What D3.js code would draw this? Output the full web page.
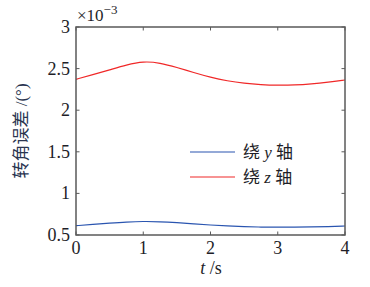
<!DOCTYPE html>
<html><head><meta charset="utf-8">
<script src="https://cdn.jsdelivr.net/npm/d3@7"></script>
<style>body{margin:0;background:#fff}svg{display:block}</style>
</head><body>
<script>
const times = [0, 0.25, 0.5, 0.75, 1, 1.25, 1.5, 1.75, 2, 2.25, 2.5, 2.75, 3, 3.25, 3.5, 3.75, 4];
const rotY = [0.612, 0.627, 0.642, 0.656, 0.664, 0.660, 0.648, 0.634, 0.620, 0.609, 0.600, 0.595, 0.593, 0.594, 0.596, 0.601, 0.608];
const rotZ = [2.371, 2.428, 2.485, 2.545, 2.588, 2.570, 2.515, 2.452, 2.395, 2.352, 2.323, 2.306, 2.299, 2.302, 2.315, 2.336, 2.363];
const xTicks = [0, 1, 2, 3, 4];
const yTicks = [0.5, 1, 1.5, 2, 2.5, 3];
const seriesNames = ["绕", "轴"];

const W = 370, H = 287;
const m = {l: 76, r: 345, t: 27, b: 235};
const svg = d3.select("body").append("svg").attr("width", W).attr("height", H);
const x = d3.scaleLinear().domain([0, 4]).range([m.l, m.r]);
const y = d3.scaleLinear().domain([0.5, 3]).range([m.b, m.t]);
const serif = "'Liberation Serif','Times New Roman',serif";
const cjk = "'Noto Sans CJK SC',sans-serif";
const axisCol = "#5a5a5a";
const txtCol = "#1e1e28";

const tl = 3.5;
const g = svg.append("g");
xTicks.forEach(v => {
  g.append("line").attr("x1", x(v)).attr("x2", x(v)).attr("y1", m.b).attr("y2", m.b - tl).attr("stroke", axisCol);
  g.append("line").attr("x1", x(v)).attr("x2", x(v)).attr("y1", m.t).attr("y2", m.t + tl).attr("stroke", axisCol);
  g.append("text").attr("x", x(v)).attr("y", 254).attr("text-anchor", "middle")
    .attr("font-family", serif).attr("font-size", 18).attr("fill", txtCol).text(d3.format("d")(v));
});
yTicks.forEach(v => {
  g.append("line").attr("x1", m.l).attr("x2", m.l + tl).attr("y1", y(v)).attr("y2", y(v)).attr("stroke", axisCol);
  g.append("line").attr("x1", m.r).attr("x2", m.r - tl).attr("y1", y(v)).attr("y2", y(v)).attr("stroke", axisCol);
  g.append("text").attr("x", 70).attr("y", y(v) + 6).attr("text-anchor", "end")
    .attr("font-family", serif).attr("font-size", 18).attr("fill", txtCol).text(v);
});

const line = d3.line().x(d => x(d[0])).y(d => y(d[1])).curve(d3.curveBasis);
svg.append("path").datum(times.map((t, i) => [t, rotY[i]])).attr("d", line)
  .attr("fill", "none").attr("stroke", "#2a55b0").attr("stroke-width", 1.2);
svg.append("path").datum(times.map((t, i) => [t, rotZ[i]])).attr("d", line)
  .attr("fill", "none").attr("stroke", "#f02828").attr("stroke-width", 1.2);

svg.append("rect").attr("x", m.l).attr("y", m.t).attr("width", m.r - m.l).attr("height", m.b - m.t)
  .attr("fill", "none").attr("stroke", axisCol).attr("stroke-width", 1.5);

const ex = svg.append("text").attr("x", 77).attr("y", 21).attr("font-family", serif).attr("font-size", 17).attr("fill", txtCol);
ex.append("tspan").text("×10");
ex.append("tspan").attr("dy", -7).attr("font-size", 13).text("−3");

const xl = svg.append("text").attr("x", 211).attr("y", 274).attr("text-anchor", "middle")
  .attr("font-family", serif).attr("font-size", 18).attr("fill", txtCol);
xl.append("tspan").attr("font-style", "italic").text("t");
xl.append("tspan").text(" /s");

const yl = svg.append("text").attr("transform", `translate(27,${(m.t + m.b) / 2}) rotate(-90)`)
  .attr("text-anchor", "middle").attr("font-size", 17).attr("fill", "#2a3550");
yl.append("tspan").attr("font-family", cjk).text("转角误差");
yl.append("tspan").attr("font-family", serif).text(" /(°)");

const leg = [["y", "#2a55b0", 152], ["z", "#f02828", 177]];
leg.forEach(([ax, c, ly]) => {
  svg.append("line").attr("x1", 190).attr("x2", 235).attr("y1", ly).attr("y2", ly).attr("stroke", c).attr("stroke-width", 1.2);
  const t = svg.append("text").attr("x", 243).attr("y", ly + 6).attr("font-size", 17).attr("fill", txtCol);
  t.append("tspan").attr("font-family", cjk).text(seriesNames[0]);
  t.append("tspan").attr("font-family", serif).attr("font-style", "italic").text(" " + ax + " ");
  t.append("tspan").attr("font-family", cjk).text(seriesNames[1]);
});
</script>
</body></html>
